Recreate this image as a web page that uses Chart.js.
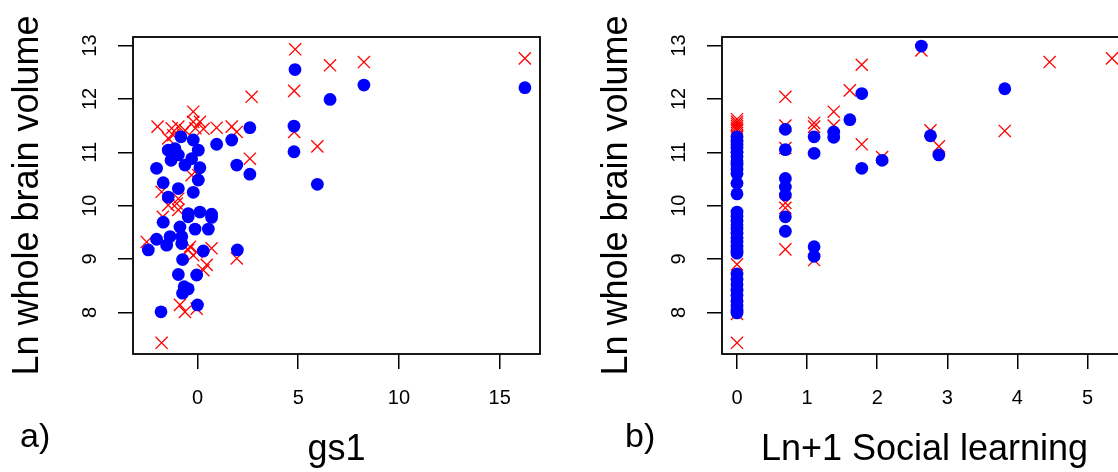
<!DOCTYPE html>
<html>
<head>
<meta charset="utf-8">
<title>Ln whole brain volume</title>
<script src="https://cdn.jsdelivr.net/npm/chart.js@4.4.1/dist/chart.umd.min.js"></script>
<style>
  html, body { margin: 0; padding: 0; overflow: hidden; background: #fff; }
  body { width: 1118px; height: 472px; position: relative; font-family: "Liberation Sans", Arial, Helvetica, sans-serif; }
  .panel { position: absolute; top: 0; }
  .panel canvas { display: block; }
  .tag { position: absolute; font-size: 34px; line-height: 34px; color: #000; }
</style>
</head>
<body>
<div class="panel" style="left:0"><canvas id="gs1Chart" width="560" height="472"></canvas></div>
<div class="panel" style="left:589px"><canvas id="socialChart" width="558" height="472"></canvas></div>
<div class="tag" style="left:20px;top:418px">a)</div>
<div class="tag" style="left:625px;top:418px">b)</div>
<script>
// ---- data: [x, ln whole brain volume] ----
const gs1Blue = [
  [-2.44, 9.17], [-2.03, 9.37], [-2.03, 10.70], [-1.81, 8.01], [-1.70, 10.43],
  [-1.70, 9.69], [-1.53, 9.26], [-1.45, 11.04], [-1.45, 10.16], [-1.36, 9.42],
  [-1.31, 10.85], [-1.12, 11.07], [-0.95, 10.95], [-0.95, 10.32], [-0.95, 8.71],
  [-0.87, 9.60], [-0.82, 11.29], [-0.78, 9.42], [-0.78, 9.29], [-0.74, 8.99],
  [-0.74, 8.36], [-0.66, 8.48], [-0.62, 10.76], [-0.46, 9.79], [-0.46, 9.85],
  [-0.46, 8.44], [-0.29, 10.88], [-0.21, 11.23], [-0.21, 10.25], [-0.12, 9.56],
  [-0.04, 8.70], [0.00, 8.14], [0.04, 11.04], [0.04, 10.48], [0.12, 10.71],
  [0.12, 9.88], [0.29, 9.15], [0.54, 9.56], [0.70, 9.84], [0.70, 9.78],
  [0.95, 11.15], [1.70, 11.23], [1.95, 10.76], [1.98, 9.17], [2.60, 11.46],
  [2.60, 10.59], [4.79, 11.49], [4.79, 11.01], [4.84, 12.55], [5.95, 10.40],
  [6.58, 11.99], [8.26, 12.26], [16.25, 12.21]
];
const gs1Red = [
  [-2.52, 9.32], [-1.98, 11.48], [-1.78, 10.26], [-1.78, 7.43], [-1.72, 9.79],
  [-1.45, 11.26], [-1.45, 10.01], [-1.28, 11.45], [-1.20, 11.32], [-1.03, 10.04],
  [-0.95, 11.48], [-0.95, 10.13], [-0.95, 9.92], [-0.87, 8.14], [-0.75, 11.35],
  [-0.62, 11.41], [-0.62, 8.01], [-0.46, 9.17], [-0.37, 9.23], [-0.29, 10.57],
  [-0.21, 11.76], [-0.21, 11.57], [-0.21, 9.07], [-0.10, 11.45], [-0.04, 9.13],
  [-0.04, 8.07], [0.04, 10.57], [0.12, 11.57], [0.29, 8.79], [0.30, 11.44],
  [0.46, 8.89], [0.70, 9.20], [0.95, 11.46], [1.70, 11.48], [1.95, 11.38],
  [1.95, 9.01], [2.60, 10.88], [2.69, 12.04], [4.80, 12.15], [4.80, 11.38],
  [4.85, 12.93], [5.95, 11.11], [6.58, 12.63], [8.26, 12.69], [16.25, 12.76]
];
const socialBlue = [
  [0, 11.29], [0, 11.22], [0, 11.15], [0, 11.08], [0, 11.00], [0, 10.92],
  [0, 10.84], [0, 10.76], [0, 10.68], [0, 10.60], [0, 10.42], [0, 10.22],
  [0, 9.88], [0, 9.80], [0, 9.72], [0, 9.64], [0, 9.56], [0, 9.48], [0, 9.40],
  [0, 9.32], [0, 9.24], [0, 9.16], [0, 9.11], [0, 8.72], [0, 8.62], [0, 8.52],
  [0, 8.42], [0, 8.32], [0, 8.22], [0, 8.12], [0, 8.04], [0, 7.99],
  [0.69, 11.43], [0.69, 11.05], [0.69, 10.51], [0.69, 10.35], [0.69, 10.20],
  [0.69, 9.79], [0.69, 9.52],
  [1.10, 11.29], [1.10, 10.98], [1.10, 9.23], [1.10, 9.05],
  [1.38, 11.38], [1.38, 11.28], [1.61, 11.61], [1.78, 12.10], [1.78, 10.70],
  [2.07, 10.85], [2.63, 12.99], [2.76, 11.31], [2.88, 10.95], [3.82, 12.19]
];
const socialRed = [
  [0, 11.62], [0, 11.57], [0, 11.53], [0, 11.49], [0, 11.45], [0, 11.41],
  [0, 11.30], [0, 11.10], [0, 10.90], [0, 10.70], [0, 9.60], [0, 9.30],
  [0, 8.90], [0, 8.50], [0, 8.30], [0, 8.10], [0, 7.97], [0, 7.43],
  [0.69, 12.04], [0.69, 11.50], [0.69, 11.08], [0.69, 10.05], [0.69, 9.96], [0.69, 9.18],
  [1.10, 11.55], [1.10, 11.48], [1.10, 8.98],
  [1.38, 11.76], [1.38, 11.50], [1.61, 12.16], [1.78, 12.64], [1.78, 11.15],
  [2.07, 10.91], [2.63, 12.91], [2.76, 11.41], [2.88, 11.11], [3.82, 11.40],
  [4.46, 12.69], [5.35, 12.76]
];

const gs1Ticks = [0, 5, 10, 15];
const socialTicks = [0, 1, 2, 3, 4, 5];
const volumeTicks = [8, 9, 10, 11, 12, 13];

// ---- shared styling ----
const family = "'Liberation Sans', Arial, Helvetica, sans-serif";
const tickFont = { family: family, size: 20 };
const titleFont = { family: family, size: 36 };

// box around the plotting region
const frameBox = {
  id: 'frameBox',
  afterDatasetsDraw(chart) {
    const { ctx, chartArea: a } = chart;
    ctx.save();
    ctx.strokeStyle = '#000';
    ctx.lineWidth = 1.8;
    ctx.strokeRect(a.left, a.top, a.right - a.left, a.bottom - a.top);
    ctx.restore();
  }
};

const toPoints = (pairs) => pairs.map(([x, y]) => ({ x: x, y: y }));

function makePanel(id, blue, red, xMin, xMax, xTicks, xTitle) {
  return new Chart(document.getElementById(id), {
    type: 'scatter',
    data: {
      datasets: [
        {
          label: 'blue',
          data: toPoints(blue),
          order: 0,
          pointStyle: 'circle',
          pointRadius: 6.4,
          pointBackgroundColor: '#0000ff',
          pointBorderWidth: 0,
          clip: false
        },
        {
          label: 'red',
          data: toPoints(red),
          order: 1,
          pointStyle: 'crossRot',
          pointRadius: 8.6,
          pointBorderColor: '#ff0000',
          pointBorderWidth: 1.3,
          clip: false
        }
      ]
    },
    options: {
      responsive: false,
      animation: false,
      events: [],
      layout: { autoPadding: false, padding: { top: 37, right: 20, bottom: 0, left: 0 } },
      plugins: { legend: { display: false }, tooltip: { enabled: false } },
      scales: {
        x: {
          type: 'linear',
          min: xMin,
          max: xMax,
          afterBuildTicks: (s) => { s.ticks = xTicks.map((v) => ({ value: v })); },
          afterFit: (s) => { s.height = 118; },
          border: { display: false },
          grid: { drawOnChartArea: false, drawTicks: true, tickLength: 15, color: '#000', lineWidth: 1.5 },
          ticks: { color: '#000', font: tickFont, padding: 17.5, maxRotation: 0, autoSkip: false },
          title: { display: true, text: xTitle, color: '#000', font: titleFont, padding: { top: 0, bottom: 0 } }
        },
        y: {
          type: 'linear',
          min: 7.22,
          max: 13.16,
          afterBuildTicks: (s) => { s.ticks = volumeTicks.map((v) => ({ value: v })); },
          afterFit: (s) => { s.width = 133; },
          border: { display: false },
          grid: { drawOnChartArea: false, drawTicks: true, tickLength: 15, color: '#000', lineWidth: 1.5 },
          ticks: { color: '#000', font: tickFont, padding: 16, minRotation: 90, maxRotation: 90, crossAlign: 'center', autoSkip: false },
          title: { display: true, text: 'Ln whole brain volume', color: '#000', font: titleFont, padding: { top: 6.4, bottom: 0 } }
        }
      }
    },
    plugins: [frameBox]
  });
}

makePanel('gs1Chart', gs1Blue, gs1Red, -3.2, 17.0, gs1Ticks, 'gs1');
makePanel('socialChart', socialBlue, socialRed, -0.214, 5.564, socialTicks, 'Ln+1 Social learning');
</script>
</body>
</html>
